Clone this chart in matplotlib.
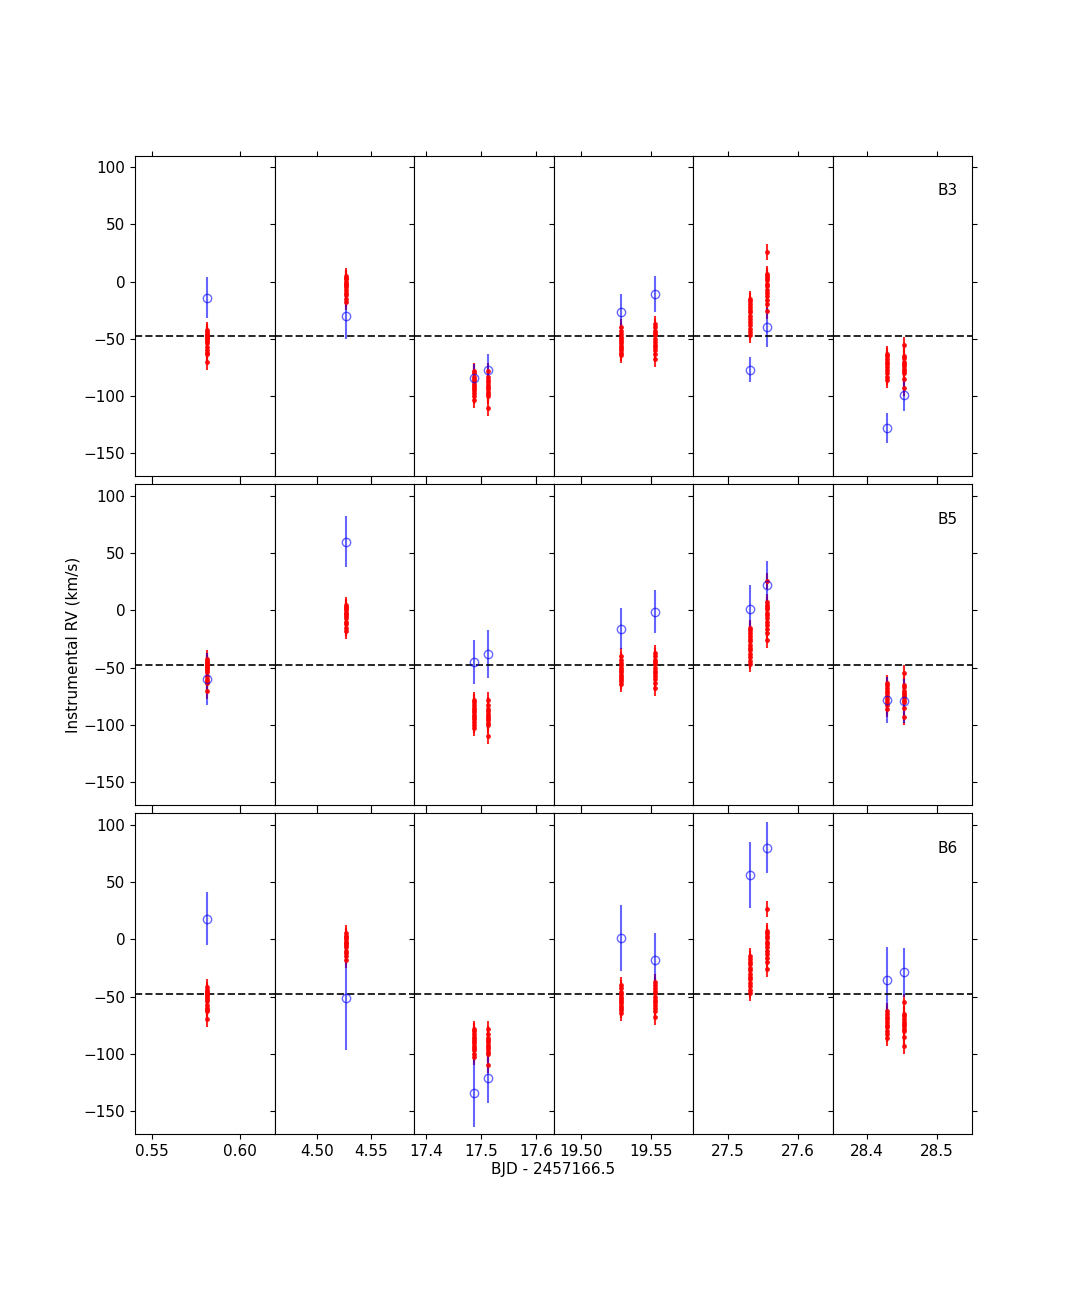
import matplotlib
matplotlib.use("Agg")
import matplotlib.pyplot as plt
from matplotlib.ticker import FormatStrFormatter
import numpy as np

plt.rcParams['font.size'] = 11

# --- data ---
bands = ['B3', 'B5', 'B6']
v_sys = -47.5

# epoch times of each cluster, per panel (BJD - 2457166.5)
times = [[0.5813], [4.5269], [17.4865, 17.5117], [19.5286, 19.5529],
         [27.5314, 27.5557], [28.4286, 28.4529]]

# red (reference) RVs, one list per cluster, same for every band
red_rv = [
    [[-42, -44, -46, -47, -48, -49, -50, -52, -54, -57, -60, -62, -63, -70]],
    [[5, 3, 2, 0, -2, -3, -5, -7, -10, -12, -15, -18]],
    [[-78, -80, -83, -85, -87, -89, -91, -93, -95, -97, -100, -103],
     [-78, -83, -86, -88, -90, -92, -94, -96, -98, -100, -110]],
    [[-40, -43, -46, -48, -50, -52, -54, -56, -58, -60, -62, -64],
     [-37, -40, -43, -45, -47, -50, -53, -55, -57, -60, -63, -68]],
    [[-15, -17, -20, -22, -25, -27, -30, -33, -35, -38, -41, -44, -47],
     [26, 7, 5, 3, 1, -2, -4, -7, -10, -13, -16, -20, -26]],
    [[-63, -65, -68, -70, -72, -75, -77, -80, -83, -86],
     [-55, -65, -67, -70, -72, -74, -76, -78, -80, -85, -93]],
]
red_err = 7

# blue (band) RVs and errors, one value per cluster
blue_rv = {
    'B3': [[-14], [-30], [-84, -77], [-27, -11], [-77, -40], [-128, -99]],
    'B5': [[-60], [60], [-45, -38], [-16, -1], [1, 22], [-78, -79]],
    'B6': [[18], [-51], [-134, -121], [1, -18], [56, 80], [-36, -29]],
}
blue_err = {
    'B3': [[18], [20], [12, 14], [16, 16], [11, 17], [13, 14]],
    'B5': [[23], [22], [19, 21], [18, 19], [21, 21], [20, 19]],
    'B6': [[23], [46], [30, 22], [29, 23], [29, 22], [29, 21]],
}

xlims = [(0.5403, 0.6199), (4.461, 4.590), (17.378, 17.631),
         (19.4807, 19.58), (27.45, 27.65), (28.3514, 28.55)]
xticks = [[0.55, 0.60], [4.50, 4.55], [17.4, 17.5, 17.6],
          [19.50, 19.55], [27.5, 27.6], [28.4, 28.5]]
xfmt = ['%.2f', '%.2f', '%.1f', '%.2f', '%.1f', '%.1f']

fig, axes = plt.subplots(3, 6, figsize=(10.8, 12.96), dpi=100, sharey=True)
fig.subplots_adjust(left=0.125, right=0.9, bottom=0.125, top=0.88,
                    hspace=0.025, wspace=0)

for r, band in enumerate(bands):
    for c in range(6):
        ax = axes[r, c]
        for k, t in enumerate(times[c]):
            rv = np.array(red_rv[c][k])
            ax.errorbar(np.full(len(rv), t), rv, yerr=red_err, fmt='.',
                        color='red', ms=5, lw=1.5, alpha=0.85)
        for k, t in enumerate(times[c]):
            ax.errorbar([t], [blue_rv[band][c][k]], yerr=[blue_err[band][c][k]],
                        fmt='o', mfc='none', color='blue', alpha=0.6, lw=1.5)
        ax.axhline(v_sys, color='k', ls='--', lw=1.4, alpha=0.85)
        ax.set_xlim(*xlims[c])
        ax.set_ylim(-170, 110)
        ax.set_xticks(xticks[c])
        ax.xaxis.set_major_formatter(FormatStrFormatter(xfmt[c]))
        ax.set_yticks([-150, -100, -50, 0, 50, 100])
        ax.tick_params(top=True, bottom=True, labelbottom=(r == 2),
                       right=(c == 5), labelsize=11)
        if c == 5:
            ax.text(0.75, 0.89, band, transform=ax.transAxes, va='center',
                    fontsize=11)

fig.text(0.5125, 0.0975, 'BJD - 2457166.5', ha='center', va='center', fontsize=11)
fig.text(0.068, 0.5023, 'Instrumental RV (km/s)', ha='center', va='center',
         rotation=90, fontsize=11)

plt.savefig('out.png', dpi=100)
plt.close()
